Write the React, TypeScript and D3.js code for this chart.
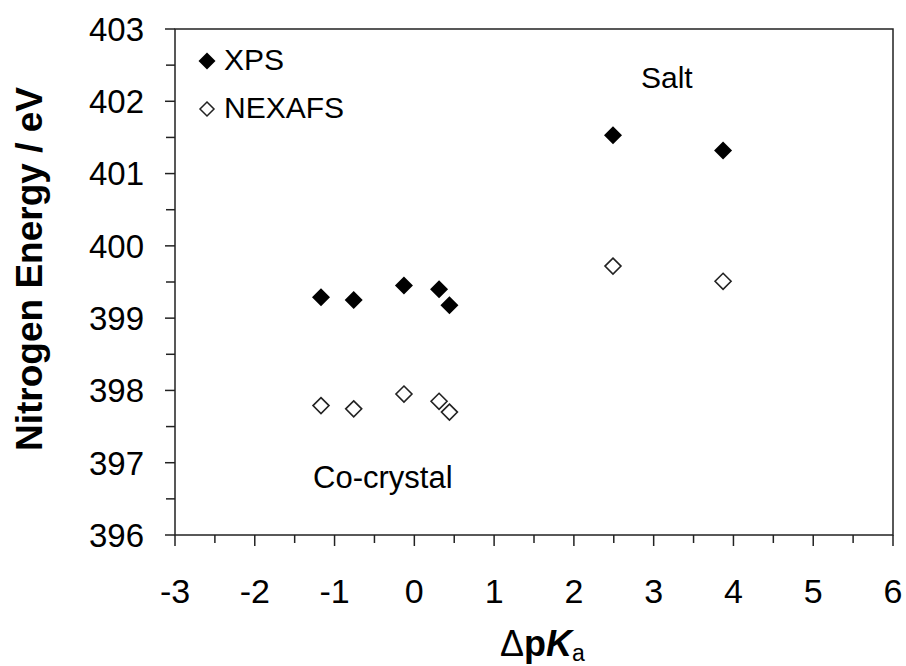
import React from "react";
import * as d3 from "d3";

// values
const xpsX = [-1.17, -0.76, -0.13, 0.31, 0.44, 2.49, 3.87];
const xpsY = [399.29, 399.25, 399.45, 399.4, 399.18, 401.53, 401.32];
const nexX = [-1.17, -0.76, -0.13, 0.31, 0.44, 2.49, 3.87];
const nexY = [397.79, 397.745, 397.95, 397.85, 397.7, 399.72, 399.51];
const xTicks = [-3, -2, -1, 0, 1, 2, 3, 4, 5, 6];
const yTicks = [396, 397, 398, 399, 400, 401, 402, 403];

const W = 906;
const H = 666;
const margin = { top: 29, right: 13, bottom: 131, left: 175 };
const font = "'Liberation Sans', Arial, sans-serif";

const x = d3.scaleLinear().domain([-3, 6]).range([margin.left, W - margin.right]);
const y = d3.scaleLinear().domain([396, 403]).range([H - margin.bottom, margin.top]);

const diamond = (cx: number, cy: number, r: number) =>
  `M${cx},${cy - r}L${cx + r},${cy}L${cx},${cy + r}L${cx - r},${cy}Z`;

export default function App() {
  const xMinor = d3.range(-2.5, 6, 1);
  const yMinor = d3.range(396.5, 403, 1);
  const x0 = x(-3);
  const y0 = y(396);
  const stroke = "#222";

  return (
    <svg
      width={W}
      height={H}
      style={{ position: "absolute", left: 0, top: 0, background: "#fff" }}
      fontFamily={font}
    >
      {/* frame */}
      <rect
        x={x0}
        y={y(403)}
        width={x(6) - x0}
        height={y0 - y(403)}
        fill="none"
        stroke={stroke}
        strokeWidth={1.5}
      />

      {/* y ticks */}
      {yTicks.map(t => (
        <g key={"yt" + t}>
          <line x1={x0 - 10} x2={x0} y1={y(t)} y2={y(t)} stroke={stroke} strokeWidth={1.5} />
          <text x={144} y={y(t)} dy="0.36em" textAnchor="end" fontSize={33}>
            {t}
          </text>
        </g>
      ))}
      {yMinor.map(t => (
        <line key={"ym" + t} x1={x0 - 9} x2={x0} y1={y(t)} y2={y(t)} stroke={stroke} strokeWidth={1.5} />
      ))}

      {/* x ticks */}
      {xTicks.map(t => (
        <g key={"xt" + t}>
          <line x1={x(t)} x2={x(t)} y1={y0} y2={y0 + 11} stroke={stroke} strokeWidth={1.5} />
          <text x={x(t)} y={603} textAnchor="middle" fontSize={34}>
            {t}
          </text>
        </g>
      ))}
      {xMinor.map(t => (
        <line key={"xm" + t} x1={x(t)} x2={x(t)} y1={y0} y2={y0 + 8} stroke={stroke} strokeWidth={1.5} />
      ))}

      {/* axis titles */}
      <text
        transform={`translate(42,${269}) rotate(-90)`}
        textAnchor="middle"
        fontSize={37}
        fontWeight="bold"
      >
        Nitrogen Energy / eV
      </text>
      <text x={500} y={656} fontSize={36}>
        <tspan>Δ</tspan>
        <tspan fontWeight="bold">p</tspan>
        <tspan fontWeight="bold" fontStyle="italic">K</tspan>
        <tspan fontSize={23} dy={5}>a</tspan>
      </text>

      {/* annotations */}
      <text x={641} y={88} fontSize={30}>Salt</text>
      <text x={313} y={488} fontSize={31}>Co-crystal</text>

      {/* data */}
      {xpsX.map((v, i) => (
        <path key={"x" + i} d={diamond(x(v), y(xpsY[i]), 9)} fill="#000" />
      ))}
      {nexX.map((v, i) => (
        <path
          key={"n" + i}
          d={diamond(x(v), y(nexY[i]), 8)}
          fill="#fff"
          stroke="#222"
          strokeWidth={1.6}
        />
      ))}

      {/* legend */}
      <path d={diamond(207, 61, 8.5)} fill="#000" />
      <text x={224} y={70} fontSize={30}>XPS</text>
      <path d={diamond(207, 109, 7)} fill="#fff" stroke="#222" strokeWidth={1.5} />
      <text x={224} y={118} fontSize={30}>NEXAFS</text>
    </svg>
  );
}
